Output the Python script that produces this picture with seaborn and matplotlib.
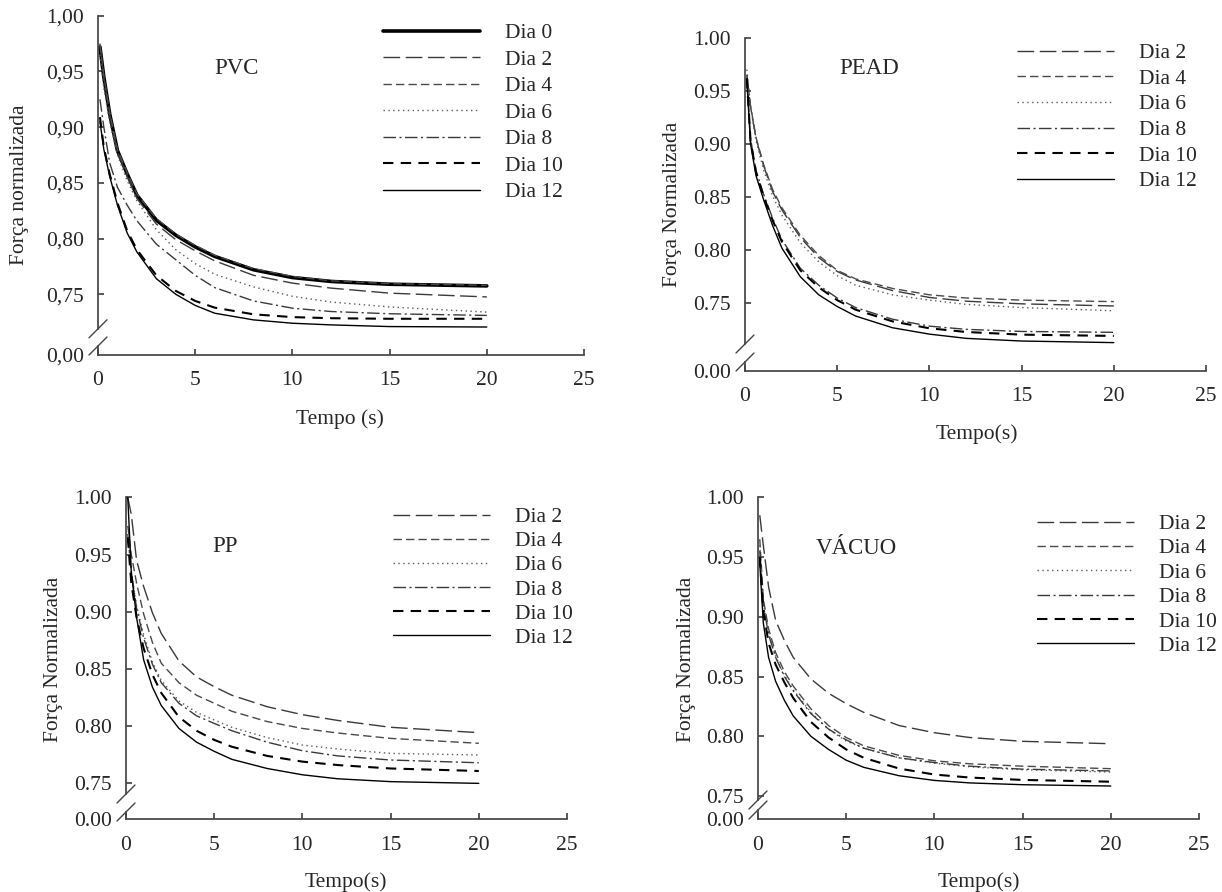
import matplotlib
matplotlib.use('Agg')
import matplotlib.pyplot as plt
from matplotlib.lines import Line2D
from matplotlib.ticker import FuncFormatter
import numpy as np
import pandas as pd
import seaborn as sns

# tempos lidos (s)
tempo = [0.1, 0.3, 0.6, 1, 1.5, 2, 3, 4, 5, 6, 8, 10, 12, 15, 20]

# PVC
pvc_dia0 = [0.972, 0.945, 0.912, 0.879, 0.858, 0.839, 0.8165, 0.803, 0.7925, 0.784, 0.772, 0.765, 0.7615, 0.759, 0.7575]
pvc_dia2 = [0.975, 0.945, 0.912, 0.878, 0.856, 0.836, 0.813, 0.799, 0.789, 0.780, 0.767, 0.760, 0.7555, 0.751, 0.7476]
pvc_dia4 = [0.974, 0.946, 0.913, 0.880, 0.859, 0.840, 0.818, 0.804, 0.794, 0.785, 0.773, 0.766, 0.762, 0.7595, 0.758]
pvc_dia6 = [0.965, 0.935, 0.905, 0.875, 0.852, 0.834, 0.808, 0.790, 0.7775, 0.768, 0.7566, 0.7482, 0.743, 0.7386, 0.734]
pvc_dia8 = [0.925, 0.900, 0.868, 0.846, 0.830, 0.816, 0.795, 0.781, 0.767, 0.756, 0.744, 0.7375, 0.7345, 0.7325, 0.731]
pvc_dia10 = [0.909, 0.882, 0.858, 0.832, 0.807, 0.790, 0.767, 0.753, 0.744, 0.738, 0.732, 0.7295, 0.7285, 0.728, 0.728]
pvc_dia12 = [0.905, 0.880, 0.856, 0.830, 0.805, 0.788, 0.764, 0.750, 0.740, 0.733, 0.727, 0.724, 0.7225, 0.721, 0.7206]

# PEAD
pead_dia2 = [0.965, 0.935, 0.905, 0.880, 0.855, 0.838, 0.812, 0.793, 0.780, 0.772, 0.762, 0.7555, 0.752, 0.7495, 0.7475]
pead_dia4 = [0.965, 0.936, 0.906, 0.881, 0.857, 0.840, 0.814, 0.795, 0.781, 0.773, 0.764, 0.758, 0.755, 0.753, 0.7516]
pead_dia6 = [0.970, 0.935, 0.903, 0.876, 0.851, 0.833, 0.807, 0.789, 0.776, 0.767, 0.758, 0.753, 0.749, 0.746, 0.743]
pead_dia8 = [0.962, 0.905, 0.875, 0.853, 0.830, 0.810, 0.783, 0.767, 0.755, 0.746, 0.735, 0.7285, 0.7255, 0.7235, 0.7227]
pead_dia10 = [0.962, 0.903, 0.873, 0.851, 0.828, 0.808, 0.781, 0.765, 0.753, 0.744, 0.733, 0.7265, 0.723, 0.7205, 0.7193]
pead_dia12 = [0.960, 0.900, 0.870, 0.848, 0.823, 0.802, 0.775, 0.758, 0.747, 0.738, 0.727, 0.721, 0.717, 0.7145, 0.713]

# PP
pp_dia2 = [1.000, 0.985, 0.945, 0.922, 0.899, 0.881, 0.857, 0.843, 0.8345, 0.827, 0.817, 0.810, 0.805, 0.799, 0.7943]
pp_dia4 = [0.975, 0.950, 0.925, 0.898, 0.873, 0.855, 0.838, 0.827, 0.820, 0.813, 0.804, 0.798, 0.794, 0.7893, 0.785]
pp_dia6 = [0.965, 0.935, 0.905, 0.880, 0.856, 0.840, 0.822, 0.812, 0.8054, 0.799, 0.790, 0.7835, 0.780, 0.7762, 0.7748]
pp_dia8 = [0.968, 0.935, 0.903, 0.877, 0.854, 0.838, 0.820, 0.809, 0.8024, 0.796, 0.786, 0.7785, 0.774, 0.7704, 0.768]
pp_dia10 = [0.965, 0.925, 0.895, 0.868, 0.845, 0.829, 0.808, 0.796, 0.788, 0.782, 0.774, 0.769, 0.766, 0.763, 0.7608]
pp_dia12 = [1.000, 0.935, 0.895, 0.858, 0.834, 0.818, 0.798, 0.786, 0.778, 0.771, 0.763, 0.7575, 0.754, 0.7515, 0.750]

# VACUO
vac_dia2 = [0.985, 0.960, 0.925, 0.897, 0.880, 0.866, 0.848, 0.836, 0.8273, 0.820, 0.809, 0.803, 0.799, 0.7958, 0.7938]
vac_dia4 = [0.965, 0.915, 0.890, 0.870, 0.854, 0.842, 0.823, 0.809, 0.799, 0.792, 0.784, 0.7795, 0.777, 0.775, 0.7729]
vac_dia6 = [0.960, 0.912, 0.887, 0.867, 0.851, 0.839, 0.820, 0.806, 0.796, 0.790, 0.782, 0.7775, 0.7745, 0.772, 0.7701]
vac_dia8 = [0.955, 0.910, 0.885, 0.866, 0.850, 0.838, 0.819, 0.806, 0.797, 0.790, 0.782, 0.778, 0.775, 0.7725, 0.771]
vac_dia10 = [0.950, 0.905, 0.878, 0.860, 0.845, 0.832, 0.812, 0.799, 0.789, 0.782, 0.773, 0.768, 0.7655, 0.7635, 0.762]
vac_dia12 = [0.945, 0.895, 0.866, 0.846, 0.830, 0.817, 0.800, 0.789, 0.780, 0.774, 0.767, 0.7631, 0.761, 0.7595, 0.7584]

pvc = {'Dia 0': pvc_dia0, 'Dia 2': pvc_dia2, 'Dia 4': pvc_dia4, 'Dia 6': pvc_dia6,
       'Dia 8': pvc_dia8, 'Dia 10': pvc_dia10, 'Dia 12': pvc_dia12}
pead = {'Dia 2': pead_dia2, 'Dia 4': pead_dia4, 'Dia 6': pead_dia6,
        'Dia 8': pead_dia8, 'Dia 10': pead_dia10, 'Dia 12': pead_dia12}
pp = {'Dia 2': pp_dia2, 'Dia 4': pp_dia4, 'Dia 6': pp_dia6,
      'Dia 8': pp_dia8, 'Dia 10': pp_dia10, 'Dia 12': pp_dia12}
vacuo = {'Dia 2': vac_dia2, 'Dia 4': vac_dia4, 'Dia 6': vac_dia6,
         'Dia 8': vac_dia8, 'Dia 10': vac_dia10, 'Dia 12': vac_dia12}

# estilo de cada dia: cor, espessura, tracejado
cores = {'Dia 0': 'black', 'Dia 2': '#3a3a3a', 'Dia 4': '#4a4a4a', 'Dia 6': '#5a5a5a',
         'Dia 8': '#3a3a3a', 'Dia 10': 'black', 'Dia 12': 'black'}
larguras = {'Dia 0': 2.6, 'Dia 2': 1.0, 'Dia 4': 1.0, 'Dia 6': 1.0,
            'Dia 8': 1.0, 'Dia 10': 1.5, 'Dia 12': 1.0}
tracos = {'Dia 0': '', 'Dia 2': (12, 4), 'Dia 4': (6, 3), 'Dia 6': (1, 2.5),
          'Dia 8': (9, 2.5, 1.5, 2.5), 'Dia 10': (5, 3.5), 'Dia 12': ''}

sns.set_theme(style='ticks')
plt.rcParams['font.family'] = ['Liberation Serif', 'DejaVu Serif']
FS = 15.5
SPINE = '#454545'

W, H = 1222, 892
fig = plt.figure(figsize=(W / 100, H / 100), dpi=100)


def fx(px):
    return px / W


def fy(py):
    return 1 - py / H


# layout (pixels) per panel
paineis = [
    dict(series=pvc, nome='PVC', x0=98, x25=584, ytop=15.7, ybot=328.8, ymin=0.719,
         btop=346, bbot=354.5, virgula=True, titulo=(236, 68),
         ylab=(20, 185, 'Força normalizada'), xlab=(340, 419, 'Tempo (s)'),
         leg=(383, 23, 0.30)),
    dict(series=pead, nome='PEAD', x0=745, x25=1206, ytop=37.7, ybot=344, ymin=0.7117,
         btop=362, bbot=370.7, virgula=False, titulo=(869, 69),
         ylab=(672, 204, 'Força Normalizada'), xlab=(977, 434, 'Tempo(s)'),
         leg=(1017, 43, 0.26)),
    dict(series=pp, nome='PP', x0=126, x25=567, ytop=497.3, ybot=794, ymin=0.7407,
         btop=812, bbot=819.3, virgula=False, titulo=(225, 547),
         ylab=(54, 659, 'Força Normalizada'), xlab=(346, 882, 'Tempo(s)'),
         leg=(393, 507, 0.19)),
    dict(series=vacuo, nome='VÁCUO', x0=758, x25=1199, ytop=497.3, ybot=800, ymin=0.7467,
         btop=810, bbot=819.3, virgula=False, titulo=(856, 549),
         ylab=(686, 659, 'Força Normalizada'), xlab=(979, 882, 'Tempo(s)'),
         leg=(1037, 514, 0.20)),
]


def barra(xc, yc, h=9):
    fig.add_artist(Line2D([fx(xc - h), fx(xc + h)], [fy(yc + h), fy(yc - h)],
                          transform=fig.transFigure, color=SPINE, lw=1.0))


for p in paineis:
    w = p['x25'] - p['x0']
    ax = fig.add_axes([fx(p['x0']), fy(p['ybot']), w / W, (p['ybot'] - p['ytop']) / H])
    axb = fig.add_axes([fx(p['x0']), fy(p['bbot']), w / W, (p['bbot'] - p['btop']) / H])

    linhas = []
    for dia, vals in p['series'].items():
        linhas.append(pd.DataFrame({'Tempo': tempo, 'Forca': vals, 'Dia': dia}))
    df = pd.concat(linhas, ignore_index=True)
    dias = list(p['series'].keys())

    sns.lineplot(data=df, x='Tempo', y='Forca', hue='Dia', style='Dia', size='Dia',
                 hue_order=dias, style_order=dias, size_order=dias,
                 palette={d: cores[d] for d in dias},
                 dashes={d: tracos[d] for d in dias},
                 sizes={d: larguras[d] for d in dias},
                 legend=False, ax=ax)

    fmt = FuncFormatter(lambda v, pos, c=p['virgula']:
                        (f'{v:.2f}'.replace('.', ',') if c else f'{v:.2f}'))

    ax.set_xlim(0, 25)
    ax.set_ylim(p['ymin'], 1.0)
    ax.set_yticks(np.arange(0.75, 1.001, 0.05))
    ax.yaxis.set_major_formatter(fmt)
    ax.set_xticks([])
    ax.set_xlabel('')
    ax.set_ylabel('')
    for s in ['top', 'right', 'bottom']:
        ax.spines[s].set_visible(False)
    ax.spines['left'].set_color(SPINE)
    ax.tick_params(axis='y', direction='in', length=4, color=SPINE, labelsize=FS, pad=10)

    axb.set_xlim(0, 25)
    axb.set_ylim(0, 1)
    axb.set_yticks([0])
    axb.yaxis.set_major_formatter(fmt)
    axb.set_xticks([0, 5, 10, 15, 20, 25])
    for s in ['top', 'right']:
        axb.spines[s].set_visible(False)
    axb.spines['left'].set_color(SPINE)
    axb.spines['bottom'].set_color(SPINE)
    axb.tick_params(axis='y', direction='in', length=0, labelsize=FS, pad=10)
    axb.tick_params(axis='x', direction='in', length=4, color=SPINE, labelsize=FS, pad=12)
    axb.patch.set_alpha(0)
    ax.patch.set_alpha(0)

    barra(p['x0'], p['ybot'])
    barra(p['x0'], p['btop'])

    fig.text(fx(p['titulo'][0]), fy(p['titulo'][1]), p['nome'], ha='center', va='center',
             fontsize=FS + 1)
    fig.text(fx(p['ylab'][0]), fy(p['ylab'][1]), p['ylab'][2], rotation=90,
             ha='center', va='center', fontsize=FS)
    fig.text(fx(p['xlab'][0]), fy(p['xlab'][1]), p['xlab'][2], ha='center', va='center',
             fontsize=FS)

    handles = []
    for d in dias:
        h = Line2D([], [], color=cores[d], lw=larguras[d], linestyle='-')
        if tracos[d]:
            h.set_dashes(tracos[d])
        handles.append(h)
    lx, ly, sp = p['leg']
    ax.legend(handles, dias, loc='upper left', bbox_to_anchor=(fx(lx), fy(ly)),
              bbox_transform=fig.transFigure, frameon=False, fontsize=FS,
              handlelength=4.5, handletextpad=1.15, labelspacing=sp,
              borderpad=0, borderaxespad=0)

fig.savefig('out.png', dpi=100)
